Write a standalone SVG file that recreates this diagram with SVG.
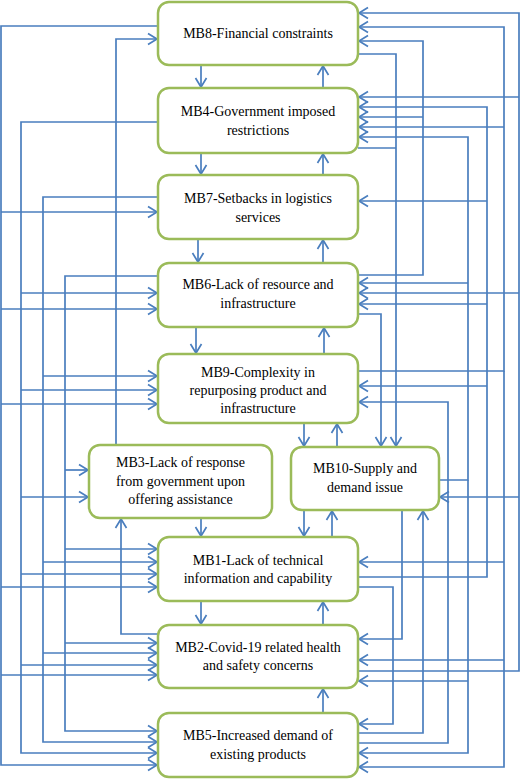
<svg xmlns="http://www.w3.org/2000/svg" width="520" height="779" viewBox="0 0 520 779">
<style>
.box{fill:#fff;stroke:#9BBB59;stroke-width:2.5}
.t{font-family:"Liberation Serif","Times New Roman",serif;font-size:14px;fill:#000;text-anchor:middle}
.c path{fill:none;stroke:#4A7EBE;stroke-width:1.7}
.a{marker-end:url(#ah)}
</style>
<defs>
<marker id="ah" viewBox="-11 -7 13 14" refX="0" refY="0" markerWidth="13" markerHeight="14" markerUnits="userSpaceOnUse" orient="auto">
<path d="M-9,-5.5 L0,0 L-9,5.5" fill="none" stroke="#4A7EBE" stroke-width="1.7"/>
</marker>
</defs>
<rect width="520" height="779" fill="#fff"/>
<g class="c" id="connectors">
<!-- left trunks -->
<path class="a" d="M158,26 H1 V765 H157"/>
<path class="a" d="M1,212 H157"/><path class="a" d="M1,309 H157"/><path class="a" d="M1,404 H157"/>
<path class="a" d="M1,587 H157"/><path class="a" d="M1,675 H157"/>
<path class="a" d="M158,122 H21 V753 H157"/>
<path class="a" d="M21,293 H157"/><path class="a" d="M21,390 H157"/><path class="a" d="M21,497 H88"/>
<path class="a" d="M21,574 H157"/><path class="a" d="M21,665 H157"/>
<path class="a" d="M158,197 H43 V742 H157"/>
<path class="a" d="M43,376 H157"/><path class="a" d="M43,562 H157"/><path class="a" d="M43,653 H157"/>
<path class="a" d="M158,276 H65 V731 H157"/>
<path class="a" d="M65,470 H88"/><path class="a" d="M65,549 H157"/><path class="a" d="M65,643 H157"/>
<path class="a" d="M116,445 V39 H157"/>
<path class="a" d="M158,634 H121 V519"/>
<!-- right trunks -->
<path class="a" d="M358,671 H519 V13 H359"/>
<path class="a" d="M519,97 H359"/><path class="a" d="M519,293 H359"/><path class="a" d="M519,497 H440"/>
<path class="a" d="M358,371 H504 V27 H359"/>
<path class="a" d="M504,371 V767 H359"/>
<path class="a" d="M504,127 H359"/><path class="a" d="M504,562 H359"/><path class="a" d="M504,660 H359"/>
<path class="a" d="M358,577 H487 V107 H359"/>
<path class="a" d="M487,201 H359"/><path class="a" d="M487,304 H359"/><path class="a" d="M487,386 H359"/>
<path class="a" d="M439,480 H468 V137 H359"/>
<path class="a" d="M468,480 V753 H359"/>
<path class="a" d="M468,283 H359"/><path class="a" d="M468,681 H359"/>
<path class="a" d="M358,743 H448 V402 H359"/>
<path class="a" d="M358,275 H423 V41 H359"/>
<path class="a" d="M423,117 H359"/>
<path class="a" d="M358,733 H423 V511"/>
<path class="a" d="M402,510 V639 H359"/>
<path class="a" d="M358,587 H393 V724 H359"/>
<path class="a" d="M358,54 H396 V446"/>
<path d="M358,148 H396"/>
<path class="a" d="M358,314 H381 V446"/>
<!-- center verticals -->
<path class="a" d="M201,65 V87"/><path class="a" d="M323,88 V66"/>
<path class="a" d="M201,153 V174"/><path class="a" d="M323,175 V154"/>
<path class="a" d="M198,239 V262"/><path class="a" d="M323,263 V240"/>
<path class="a" d="M196,327 V353"/><path class="a" d="M324,354 V328"/>
<path class="a" d="M304,423 V446"/><path class="a" d="M337,447 V424"/>
<path class="a" d="M201,518 V536"/>
<path class="a" d="M304,510 V536"/><path class="a" d="M332,537 V511"/>
<path class="a" d="M201,601 V624"/><path class="a" d="M323,625 V602"/>
<path class="a" d="M323,713 V689"/>
</g>
<g id="MB8"><rect class="box" x="158" y="2" width="200" height="63" rx="11"/>
<text class="t" x="258" y="38">MB8-Financial constraints</text></g>
<g id="MB4"><rect class="box" x="158" y="88" width="200" height="65" rx="11"/>
<text class="t" x="258" y="115.5">MB4-Government imposed</text><text class="t" x="258" y="134.5">restrictions</text></g>
<g id="MB7"><rect class="box" x="158" y="175" width="200" height="64" rx="11"/>
<text class="t" x="258" y="203">MB7-Setbacks in logistics</text><text class="t" x="258" y="222">services</text></g>
<g id="MB6"><rect class="box" x="158" y="263" width="200" height="64" rx="11"/>
<text class="t" x="258" y="289">MB6-Lack of resource and</text><text class="t" x="258" y="308">infrastructure</text></g>
<g id="MB9"><rect class="box" x="158" y="354" width="200" height="69" rx="11"/>
<text class="t" x="258" y="377">MB9-Complexity in</text><text class="t" x="258" y="395">repurposing product and</text><text class="t" x="258" y="413">infrastructure</text></g>
<g id="MB3"><rect class="box" x="89" y="445" width="183" height="73" rx="11"/>
<text class="t" x="180.5" y="467">MB3-Lack of response</text><text class="t" x="180.5" y="486">from government upon</text><text class="t" x="180.5" y="504">offering assistance</text></g>
<g id="MB10"><rect class="box" x="291" y="447" width="148" height="63" rx="11"/>
<text class="t" x="365" y="473">MB10-Supply and</text><text class="t" x="365" y="492">demand issue</text></g>
<g id="MB1"><rect class="box" x="158" y="537" width="200" height="64" rx="11"/>
<text class="t" x="258" y="565">MB1-Lack of technical</text><text class="t" x="258" y="583">information and capability</text></g>
<g id="MB2"><rect class="box" x="158" y="625" width="200" height="63" rx="11"/>
<text class="t" x="258" y="652">MB2-Covid-19 related health</text><text class="t" x="258" y="670">and safety concerns</text></g>
<g id="MB5"><rect class="box" x="158" y="713" width="200" height="64" rx="11"/>
<text class="t" x="258" y="740">MB5-Increased demand of</text><text class="t" x="258" y="759">existing products</text></g>
</svg>
